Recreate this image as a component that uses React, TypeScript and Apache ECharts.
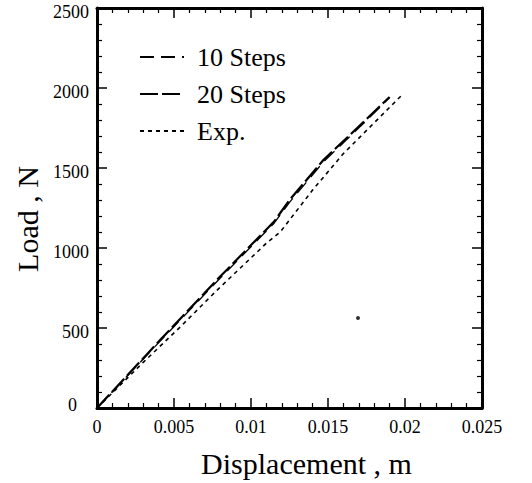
import React, { useEffect, useRef } from "react";
import * as echarts from "echarts";

// Displacement (m) and load (N)
const disp10 = [0, 0.0041, 0.0079, 0.0115, 0.0125, 0.0147, 0.0173, 0.019];
const load10 = [0, 418, 802, 1155, 1285, 1538, 1778, 1940];

const disp20 = [0, 0.0041, 0.0079, 0.0115, 0.0125, 0.0147, 0.0173, 0.019];
const load20 = [0, 425, 812, 1165, 1300, 1550, 1787, 1944];

const dispExp = [0, 0.003, 0.0054, 0.0078, 0.011, 0.0119, 0.014, 0.016, 0.0198];
const loadExp = [0, 285, 506, 737, 1030, 1100, 1362, 1590, 1956];

const spotX = [0.01695];
const spotY = [562];

const xTickLabels = ["0", "0.005", "0.01", "0.015", "0.02", "0.025"];
const seriesNames = ["10 Steps", "20 Steps", "Exp."];

const FONT = '"Liberation Serif", "Times New Roman", serif';

const pairs = (xs: number[], ys: number[]) => xs.map((x, i) => [x, ys[i]]);

export default function App() {
  const ref = useRef<HTMLDivElement>(null);
  useEffect(() => {
    document.body.style.margin = "0";
    if (!ref.current) return;
    const chart = echarts.init(ref.current, null, { renderer: "svg" });
    const axisLine = { show: true, onZero: false, lineStyle: { color: "#000", width: 3 } };
    const tick = { show: true, inside: true, length: 10, lineStyle: { color: "#000", width: 1.5 } };
    const minorTick = { show: true, splitNumber: 5, length: 5, lineStyle: { color: "#000", width: 1.2 } };
    const xBase = {
      type: "value",
      min: 0,
      max: 0.025,
      interval: 0.005,
      axisLine,
      axisTick: tick,
      minorTick,
      splitLine: { show: false },
    };
    const yBase = {
      type: "value",
      min: 0,
      max: 2500,
      interval: 500,
      axisLine,
      axisTick: tick,
      minorTick,
      splitLine: { show: false },
    };
    chart.setOption({
      animation: false,
      backgroundColor: "#fff",
      grid: { left: 97, right: 50, top: 8, bottom: 75, containLabel: false },
      legend: {
        data: seriesNames,
        orient: "vertical",
        left: 139,
        top: 42,
        padding: 0,
        itemWidth: 44,
        itemHeight: 14,
        itemGap: 7,
        itemStyle: { opacity: 0 },
        textStyle: { fontSize: 26, fontFamily: FONT, color: "#000", lineHeight: 30, padding: [0, 0, 0, 8] },
      },
      xAxis: [
        {
          ...xBase,
          position: "bottom",
          name: "Displacement , m",
          nameLocation: "middle",
          nameGap: 40,
          nameTextStyle: { fontSize: 30, fontFamily: FONT, color: "#000", padding: [0, 0, 0, 34] },
          axisLabel: {
            show: true,
            margin: 10,
            fontSize: 18,
            fontFamily: FONT,
            color: "#000",
            formatter: (v: number) => xTickLabels[Math.round(v / 0.005)] ?? "",
          },
        },
        { ...xBase, position: "top", axisLabel: { show: false } },
      ],
      yAxis: [
        {
          ...yBase,
          position: "left",
          name: "Load , N",
          nameLocation: "middle",
          nameGap: 55,
          nameTextStyle: { fontSize: 30, fontFamily: FONT, color: "#000", padding: [0, 22, 0, 0] },
          axisLabel: {
            show: true,
            margin: 8,
            fontSize: 18,
            fontFamily: FONT,
            color: "#000",
            formatter: (v: number) => (v === 0 ? "{z|0}" : "{n|" + v + "}"),
            rich: {
              z: { fontSize: 18, fontFamily: FONT, color: "#000", padding: [0, 12, 6, 0] },
              n: { fontSize: 18, fontFamily: FONT, color: "#000", padding: [8, 0, 0, 0] },
            },
          },
        },
        { ...yBase, position: "right", axisLabel: { show: false } },
      ],
      series: [
        {
          name: "10 Steps",
          type: "line",
          data: pairs(disp10, load10),
          showSymbol: false,
          symbol: "none",
          lineStyle: { color: "#000", width: 1.3, type: [14, 7] },
          itemStyle: { color: "#000" },
        },
        {
          name: "20 Steps",
          type: "line",
          data: pairs(disp20, load20),
          showSymbol: false,
          symbol: "none",
          lineStyle: { color: "#000", width: 2.2, type: [18, 4] },
          itemStyle: { color: "#000" },
        },
        {
          name: "Exp.",
          type: "line",
          data: pairs(dispExp, loadExp),
          showSymbol: false,
          symbol: "none",
          lineStyle: { color: "#000", width: 1.6, type: [4, 4] },
          itemStyle: { color: "#000" },
        },
        {
          name: "spot",
          type: "scatter",
          data: pairs(spotX, spotY),
          symbolSize: 4,
          itemStyle: { color: "#000" },
          silent: true,
        },
      ],
    });
    return () => chart.dispose();
  }, []);
  return <div ref={ref} style={{ width: 532, height: 483 }} />;
}
